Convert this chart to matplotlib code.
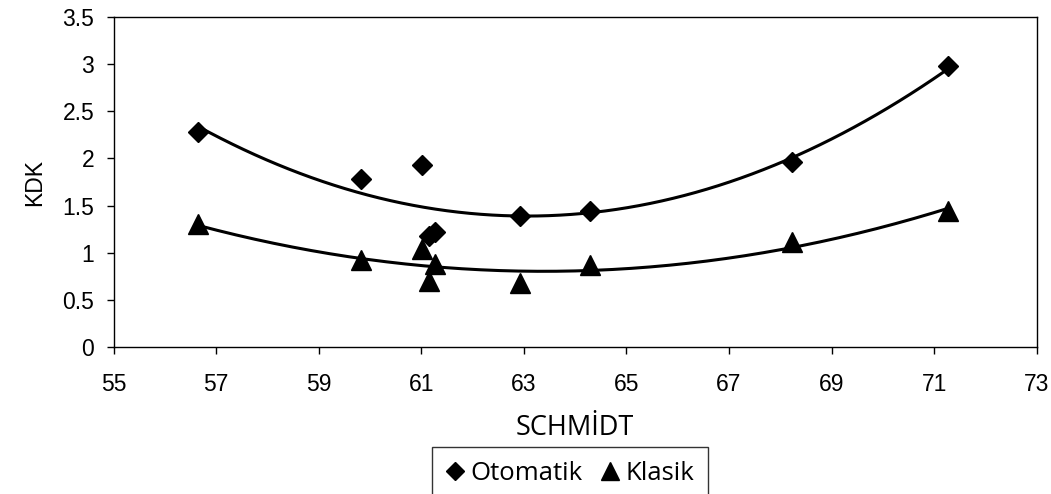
import matplotlib; matplotlib.use("Agg")
import matplotlib.pyplot as plt
import numpy as np

plt.rcParams.update({"font.family": ["Liberation Sans", "DejaVu Sans"], "font.size": 16.5})

schmidt = [56.65, 59.82, 61.02, 61.15, 61.27, 62.92, 64.29, 68.23, 71.27]
otomatik = [2.28, 1.78, 1.93, 1.18, 1.22, 1.39, 1.44, 1.96, 2.98]
klasik = [1.30, 0.92, 1.04, 0.70, 0.88, 0.68, 0.87, 1.11, 1.44]

fig = plt.figure(figsize=(10.51, 4.94), dpi=100)
ax = fig.add_axes([113.7 / 1051, 1 - 347 / 494, (1036.7 - 113.7) / 1051, (347 - 17) / 494])

xs = np.linspace(min(schmidt), max(schmidt), 200)
for ys in (otomatik, klasik):
    c = np.polyfit(schmidt, ys, 2)
    ax.plot(xs, np.polyval(c, xs), color="black", lw=2.2, zorder=2)

ax.plot(schmidt, otomatik, "D", color="black", ms=10, ls="none", label="Otomatik", zorder=3)
ax.plot(schmidt, klasik, "^", color="black", ms=14, ls="none", label="Klasik", zorder=3)

ax.set_xlim(55, 73); ax.set_ylim(0, 3.5)
ax.set_xticks(np.arange(55, 74, 2)); ax.set_yticks(np.arange(0, 3.6, 0.5))
ax.set_yticklabels(["0", "0.5", "1", "1.5", "2", "2.5", "3", "3.5"])
ax.tick_params(direction="out", length=5, width=1)
ax.tick_params(axis="x", pad=14)
ax.tick_params(axis="y", pad=9)
for s in ax.spines.values(): s.set_linewidth(1)
ax.set_xlabel("SCHMİDT", fontsize=19.5, labelpad=13, family=["Open Sans", "DejaVu Sans"])
ax.set_ylabel("KDK", fontsize=16.5, labelpad=12)

leg = fig.legend(loc="upper center", bbox_to_anchor=(570 / 1051, 1 - 447 / 494), ncol=2,
                 prop={"family": ["Open Sans", "DejaVu Sans"], "size": 18.5},
                 frameon=True, fancybox=False, edgecolor="black",
                 handlelength=0.7, handletextpad=0.25, columnspacing=0.7, markerscale=0.9,
                 borderpad=0.55, borderaxespad=0)
leg.get_frame().set_linewidth(1)

fig.savefig("out.png", dpi=100)
